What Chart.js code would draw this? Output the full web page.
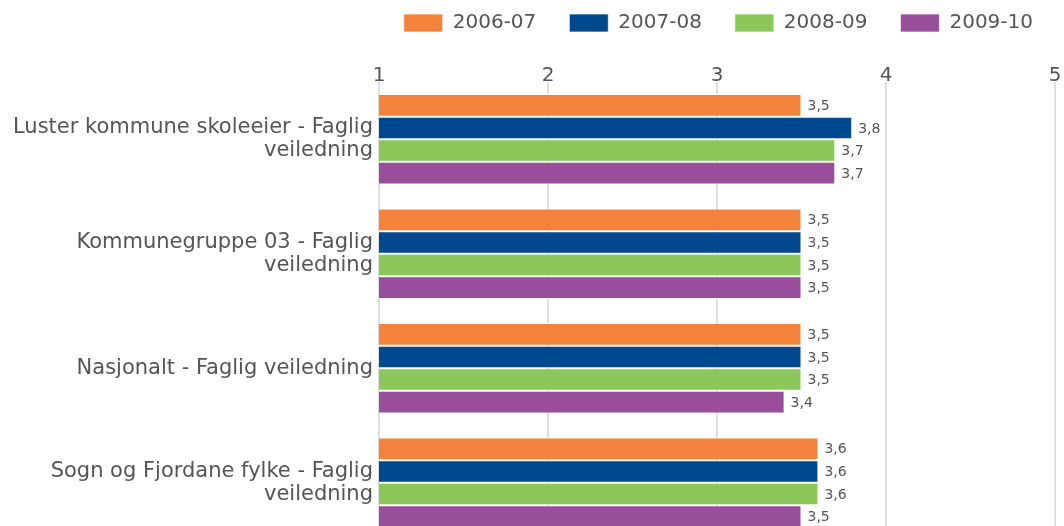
<!DOCTYPE html>
<html>
<head>
<meta charset="utf-8">
<script src="https://cdn.jsdelivr.net/npm/chart.js@4"></script>
<style>
  html, body { margin: 0; padding: 0; background: #fff; overflow: hidden; }
  #wrap { width: 1064px; height: 540px; }
</style>
</head>
<body>
<div id="wrap"><canvas id="chart"></canvas></div>
<script>
// Data
const categories = [
    ['Luster kommune skoleeier - Faglig', 'veiledning'],
    ['Kommunegruppe 03 - Faglig', 'veiledning'],
    'Nasjonalt - Faglig veiledning',
    ['Sogn og Fjordane fylke - Faglig', 'veiledning']
];
const seriesNames = ['2006-07', '2007-08', '2008-09', '2009-10'];
const values0607 = [3.5, 3.5, 3.5, 3.6];
const values0708 = [3.8, 3.5, 3.5, 3.6];
const values0809 = [3.7, 3.5, 3.5, 3.6];
const values0910 = [3.7, 3.5, 3.4, 3.5];
const axisMin = 1;
const axisMax = 5;

const colors = ['#F4823A', '#01498F', '#8CC75A', '#994E9B'];
const textGray = '#555';
const FONT = "'DejaVu Sans', Verdana, sans-serif";

const PAD_TOP = -20;
const CHART_TOP = 82;

// writes the value (with decimal comma) just past the end of every bar
const valueLabels = {
    id: 'valueLabels',
    afterDatasetsDraw(chart) {
        const ctx = chart.ctx;
        ctx.save();
        ctx.font = '14px ' + FONT;
        ctx.fillStyle = textGray;
        ctx.textAlign = 'left';
        ctx.textBaseline = 'middle';
        chart.data.datasets.forEach((ds, i) => {
            chart.getDatasetMeta(i).data.forEach((bar, j) => {
                const txt = ds.data[j].toFixed(1).replace('.', ',');
                ctx.fillText(txt, bar.x + 6, bar.y + 1);
            });
        });
        ctx.restore();
    }
};

const allSeries = [values0607, values0708, values0809, values0910];

new Chart(document.getElementById('chart'), {
    type: 'bar',
    data: {
        labels: categories,
        datasets: allSeries.map((vals, i) => ({
            label: seriesNames[i],
            data: vals,
            backgroundColor: colors[i],
            borderColor: 'rgba(255,255,255,0.7)',
            borderWidth: 1,
            borderSkipped: 'start',
            categoryPercentage: 0.79,
            barPercentage: 1
        }))
    },
    options: {
        indexAxis: 'y',
        responsive: true,
        maintainAspectRatio: false,
        animation: false,
        layout: { padding: { top: PAD_TOP, right: -2, left: 0, bottom: 0 } },
        plugins: {
            tooltip: { enabled: false },
            legend: {
                position: 'top',
                align: 'end',
                labels: {
                    boxWidth: 39,
                    boxHeight: 18,
                    padding: 33,
                    color: textGray,
                    font: { family: FONT, size: 20 }
                }
            }
        },
        scales: {
            x: {
                position: 'top',
                min: axisMin,
                max: axisMax,
                ticks: {
                    stepSize: 1,
                    color: textGray,
                    padding: -4,
                    font: { family: FONT, size: 20, lineHeight: 1 }
                },
                grid: { color: '#dedede', lineWidth: 2, drawTicks: false },
                border: { display: false },
                afterFit(s) {
                    s.height = CHART_TOP - (PAD_TOP + s.chart.legend.height);
                    s.paddingRight = 9;
                    s.paddingLeft = 0;
                }
            },
            y: {
                ticks: {
                    color: textGray,
                    padding: 6,
                    font: { family: FONT, size: 21, lineHeight: 1.1 }
                },
                grid: { display: false, drawTicks: false },
                border: { display: false },
                afterFit(s) {
                    s.width = 379;
                    s.paddingTop = 0;
                    s.paddingBottom = 0;
                }
            }
        }
    },
    plugins: [valueLabels]
});
</script>
</body>
</html>
